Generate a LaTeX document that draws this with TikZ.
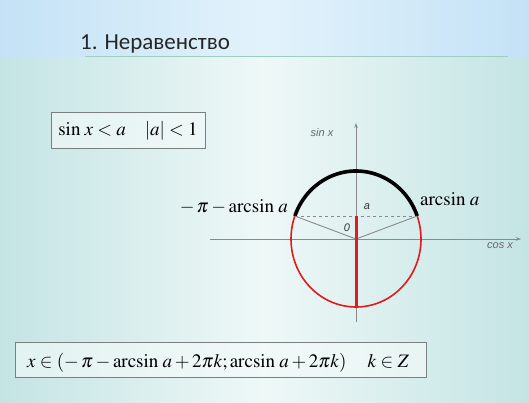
\documentclass[tikz,border=0pt]{standalone}
\usepackage[no-math]{fontspec}
\usepackage{mathptmx}
\setmainfont{Liberation Serif}
\newfontfamily\titlefont{Carlito}
\newfontfamily\lblfont{Liberation Sans}
\usetikzlibrary{arrows.meta}
\definecolor{bgedge}{HTML}{C4E4E4}
\definecolor{bgmid}{HTML}{EEF8F7}
\definecolor{topedge}{HTML}{C4E2F6}
\definecolor{topmid}{HTML}{E2F2FB}
\definecolor{titleline}{HTML}{9CCFC0}
\definecolor{circred}{HTML}{E3191C}
\definecolor{axisgray}{HTML}{8A8A8A}
\definecolor{boxgray}{HTML}{7A8080}

\begin{document}
\begin{tikzpicture}[x=1pt,y=1pt,
	axisline/.style={axisgray, line width=0.9pt},
	sflabel/.style={font=\lblfont\itshape\fontsize{11}{13}\selectfont, text=black!60, inner sep=1pt},
	mathlabel/.style={font=\fontsize{19}{22}\selectfont, inner sep=0pt},
	framebox/.style={draw=boxgray, line width=0.8pt, fill=white!40!bgmid, fill opacity=0.6, text opacity=1}]
		\useasboundingbox (0,0) rectangle (529,402);
		
		% background
		\fill[left color=bgedge, right color=bgedge, middle color=bgmid] (0,0) rectangle (529,345);
		\fill[left color=topedge, right color=topedge, middle color=topmid] (0,345) rectangle (529,402);
		\draw[titleline, line width=1pt] (85,345) -- (508,345);
		\node[anchor=base west, inner sep=0pt, text=black!85, font=\titlefont\fontsize{23}{26}\selectfont] (title) at (80,352) {1. Неравенство};
		
		% boxes
		\node[framebox, minimum width=154, minimum height=36] (cond) at (128,272) {};
		\node[mathlabel, anchor=base] (condtext) at (cond.center) [yshift=-6] {$\sin\,x < a \quad |a| < 1$};
		\node[framebox, minimum width=411, minimum height=35] (answer) at (220.5,42.5) {};
		\node[mathlabel, anchor=base west] (answertext) at (27,35) {$x \in \left(-\,\pi - \arcsin\,a + 2\pi k; \arcsin\,a + 2\pi k\right) \quad k \in Z$};
		
		% axes
		\coordinate (O) at (356,163);
		\coordinate (xs) at (210,163);
		\coordinate (xe) at (521,163);
		\coordinate (ys) at (356,80);
		\coordinate (ye) at (356,279);
		\path [-{Stealth[length=5pt,width=3.5pt]}, axisline] (xs) edge (xe);
		\path [-{Stealth[length=5pt,width=3.5pt]}, axisline] (ys) edge (ye);
		
		% circle
		\coordinate (L) at (294.8,186);
		\coordinate (R) at (417.2,186);
		\coordinate (B) at (356,95);
		\coordinate (A) at (356,186);
		\draw[circred, line width=1.6pt] (O) ellipse[x radius=65, y radius=68];
		\draw[black, line width=3.6pt] (R) arc[start angle=19.77, end angle=160.23, x radius=65, y radius=68];
		\path [dashed, axisgray, line width=0.6pt] (L) edge (R);
		\path [-, axisgray, line width=0.9pt] (O) edge (L);
		\path [-, axisgray, line width=0.9pt] (O) edge (R);
		\path [-, circred, line width=3pt] (A) edge (B);
		
		% labels
		\node[sflabel] (sinx) at (322,269) {sin x};
		\node[sflabel] (cosx) at (500,156) {cos x};
		\node[sflabel, font=\lblfont\itshape\fontsize{11}{12}\selectfont, text=black!80] (alab) at (367,195) {a};
		\node[sflabel, font=\lblfont\itshape\fontsize{11}{12}\selectfont, text=black!80] (zero) at (347,174) {0};
		\node[mathlabel, anchor=base west] (right) at (420,197) {$\arcsin\,a$};
		\node[mathlabel, anchor=base east] (left) at (288,190) {$-\,\pi - \arcsin\,a$};
		
\end{tikzpicture}
\end{document}
